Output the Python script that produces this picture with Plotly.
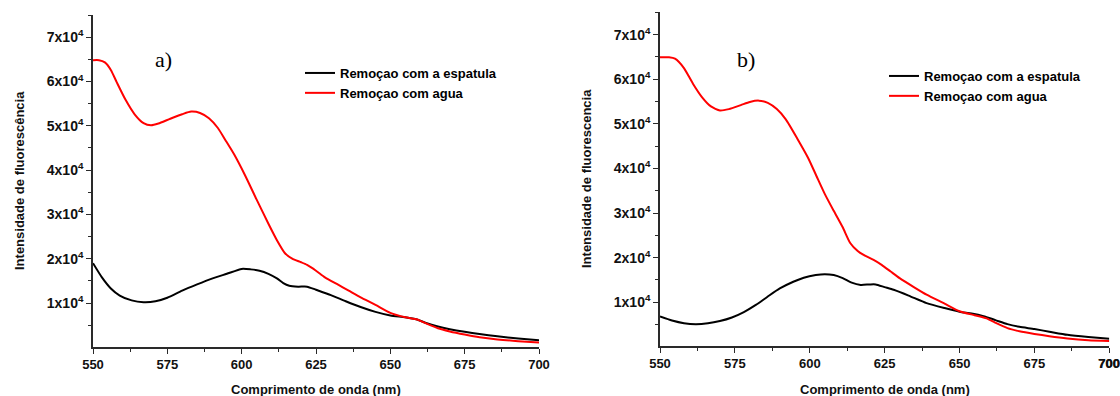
import plotly.graph_objects as go

# Fluorescence emission spectra, panel a)
wl_a_agua = [550, 552, 554, 556, 558, 561, 564, 567, 569.5, 572, 576, 580, 583, 586, 589, 592,
             594.5, 597.5, 601, 605, 609, 612, 614.5, 617, 620, 622, 625, 628, 632, 636, 640,
             645, 650, 655, 659, 662, 666, 670, 675, 680, 686, 693, 700]
agua_a = [64800, 64800, 64300, 62600, 59800, 55800, 52600, 50600, 50100, 50500, 51600, 52600,
          53200, 52900, 51700, 49500, 46800, 43500, 39000, 33400, 27900, 24000, 21300, 20000,
          19200, 18600, 17300, 15800, 14300, 12800, 11300, 9600, 7800, 6800, 6300, 5400, 4300,
          3600, 2900, 2300, 1800, 1400, 1100]

wl_a_esp = [550, 553, 556, 559, 563, 567, 571, 575, 580, 585, 590, 595, 600, 603, 606, 609, 612,
            614, 616, 619, 622, 625, 630, 635, 640, 645, 650, 655, 659, 662, 666, 670, 675, 680,
            686, 693, 700]
espatula_a = [19000, 15800, 13300, 11700, 10600, 10200, 10400, 11200, 12800, 14200, 15500, 16600,
              17700, 17600, 17300, 16600, 15500, 14500, 13900, 13700, 13700, 13000, 11800, 10400,
              9100, 8000, 7200, 6800, 6300, 5500, 4700, 4100, 3500, 3000, 2500, 2000, 1600]

# Fluorescence emission spectra, panel b)
wl_b_agua = [550, 553, 555, 558, 561, 564, 567, 570, 573, 577, 580, 583, 586, 589, 592, 596,
             599.5, 602.3, 605, 608, 611, 613.5, 616, 618, 621.3, 624, 627, 630, 635, 639, 645,
             650, 655, 659, 662, 666, 670, 675, 680, 686, 693, 700]
agua_b = [64900, 64900, 64600, 62500, 59000, 56000, 53900, 53000, 53300, 54200, 54900, 55200,
          54700, 53300, 51000, 46500, 42300, 38200, 34300, 30500, 26800, 23300, 21500, 20600,
          19500, 18400, 16900, 15400, 13300, 11700, 9700, 8000, 7100, 6400, 5400, 4200, 3500,
          2900, 2400, 1900, 1500, 1300]

wl_b_esp = [550, 554, 558, 562, 566, 570, 574, 578, 582, 586, 590, 594.5, 598, 602, 605, 608,
            611, 614, 617, 620, 622, 625, 628, 633, 639, 645, 650, 654, 658, 662, 666, 670, 675,
            680, 686, 693, 700]
espatula_b = [6800, 5900, 5300, 5100, 5300, 5800, 6600, 7800, 9400, 11300, 13100, 14600, 15500,
              16100, 16300, 16100, 15400, 14400, 13900, 14000, 14000, 13400, 12800, 11500, 9800,
              8700, 7900, 7500, 6900, 6000, 5100, 4500, 4000, 3400, 2700, 2200, 1800]

series_names = ["Remoçao com a espatula", "Remoçao com agua"]
x_ticks = [550, 575, 600, 625, 650, 675, 700]
y_ticks = [10000, 20000, 30000, 40000, 50000, 60000, 70000]
y_tick_text = ["1x10<sup>4</sup>", "2x10<sup>4</sup>", "3x10<sup>4</sup>", "4x10<sup>4</sup>",
               "5x10<sup>4</sup>", "6x10<sup>4</sup>", "7x10<sup>4</sup>"]
x_title = "Comprimento de onda (nm)"
y_titles = ["Intensidade de fluorescência", "Intensidade de fluorescencia"]
panel_labels = ["a)", "b)"]

W, H = 1120, 396
FONT = "Liberation Sans, Arial, sans-serif"
AXIS_COLOR = "#2a2a2a"

fig = go.Figure()

panels = [
    (wl_a_esp, espatula_a, wl_a_agua, agua_a, "x", "y", "legend"),
    (wl_b_esp, espatula_b, wl_b_agua, agua_b, "x2", "y2", "legend2"),
]
for wl_e, esp, wl_w, agua, xa, ya, lg in panels:
    fig.add_trace(go.Scatter(x=wl_e, y=esp, mode="lines", name=series_names[0],
                             line=dict(color="#000000", width=2, shape="spline", smoothing=0.6),
                             xaxis=xa, yaxis=ya, legend=lg))
    fig.add_trace(go.Scatter(x=wl_w, y=agua, mode="lines", name=series_names[1],
                             line=dict(color="#ff0000", width=2, shape="spline", smoothing=0.6),
                             xaxis=xa, yaxis=ya, legend=lg))


def px_x(p):
    return p / W


def px_y(p):
    return 1 - p / H


x_tick_font = dict(family=FONT, size=13, color="#111", weight="bold")
y_tick_font = dict(family=FONT, size=14, color="#111", weight="bold")
x_labels = [f"<b>{v}</b>" for v in x_ticks]

common_x = dict(range=[550, 700], tickvals=x_ticks, ticktext=x_labels,
                showline=True, linecolor=AXIS_COLOR, automargin=False,
                ticklabeloverflow="allow",
                linewidth=1.6, ticks="outside", ticklen=5, tickwidth=1.3, tickcolor=AXIS_COLOR,
                showgrid=False, zeroline=False, tickfont=x_tick_font,
                minor=dict(dtick=12.5, ticks="outside", ticklen=3, tickwidth=1.2,
                           tickcolor=AXIS_COLOR, showgrid=False))
common_y = dict(tickvals=y_ticks, ticktext=[f"<b>{t}</b>" for t in y_tick_text],
                showline=True, linecolor=AXIS_COLOR, automargin=False,
                ticklabeloverflow="allow",
                linewidth=1.6, ticks="outside", ticklen=5, tickwidth=1.3, tickcolor=AXIS_COLOR,
                showgrid=False, zeroline=False, tickfont=y_tick_font,
                minor=dict(dtick=5000, tick0=0, ticks="outside", ticklen=3, tickwidth=1.2,
                           tickcolor=AXIS_COLOR, showgrid=False))

legend_style = dict(font=dict(family=FONT, size=13, color="#000", weight="bold"),
                    bgcolor="rgba(0,0,0,0)", xanchor="left", yanchor="top",
                    tracegroupgap=0, itemclick=False)

fig.update_layout(
    template="none",
    width=W, height=H,
    margin=dict(l=0, r=0, t=0, b=0, pad=0, autoexpand=False),
    paper_bgcolor="white", plot_bgcolor="white",
    xaxis=dict(domain=[px_x(93), px_x(539)], anchor="y", **common_x),
    yaxis=dict(domain=[px_y(346.7), px_y(15)], anchor="x", range=[150, 75000], **common_y),
    xaxis2=dict(domain=[px_x(660), px_x(1109.3)], anchor="y2", **common_x),
    yaxis2=dict(domain=[px_y(346), px_y(12.3)], anchor="x2", range=[200, 75000], **common_y),
    legend=dict(x=px_x(300), y=px_y(58), **legend_style),
    legend2=dict(x=px_x(884), y=px_y(61), **legend_style),
    showlegend=True,
)

title_font = dict(family=FONT, size=13, color="#111", weight="bold")
annotations = [
    # last x label of the right panel, pinned to the x2 scale at the page edge
    dict(text=x_labels[-1], x=x_ticks[-1], xref="x2", y=px_y(363), yref="paper",
         showarrow=False, font=x_tick_font, xanchor="center", yanchor="middle"),
    dict(text=x_title, x=px_x(316), y=px_y(389), xref="paper", yref="paper",
         showarrow=False, font=title_font, xanchor="center", yanchor="middle"),
    dict(text=x_title, x=px_x(885), y=px_y(389), xref="paper", yref="paper",
         showarrow=False, font=title_font, xanchor="center", yanchor="middle"),
    dict(text=y_titles[0], x=px_x(19), y=px_y(181), xref="paper", yref="paper", textangle=-90,
         showarrow=False, font=title_font, xanchor="center", yanchor="middle"),
    dict(text=y_titles[1], x=px_x(586), y=px_y(179), xref="paper", yref="paper", textangle=-90,
         showarrow=False, font=title_font, xanchor="center", yanchor="middle"),
    dict(text=panel_labels[0], x=px_x(163), y=px_y(59), xref="paper", yref="paper",
         showarrow=False, xanchor="center", yanchor="middle",
         font=dict(family="Liberation Serif, Times New Roman, serif", size=22, color="#000")),
    dict(text=panel_labels[1], x=px_x(746), y=px_y(60), xref="paper", yref="paper",
         showarrow=False, xanchor="center", yanchor="middle",
         font=dict(family="Liberation Serif, Times New Roman, serif", size=22, color="#000")),
]
fig.update_layout(annotations=annotations)

fig.write_html("out.html")
